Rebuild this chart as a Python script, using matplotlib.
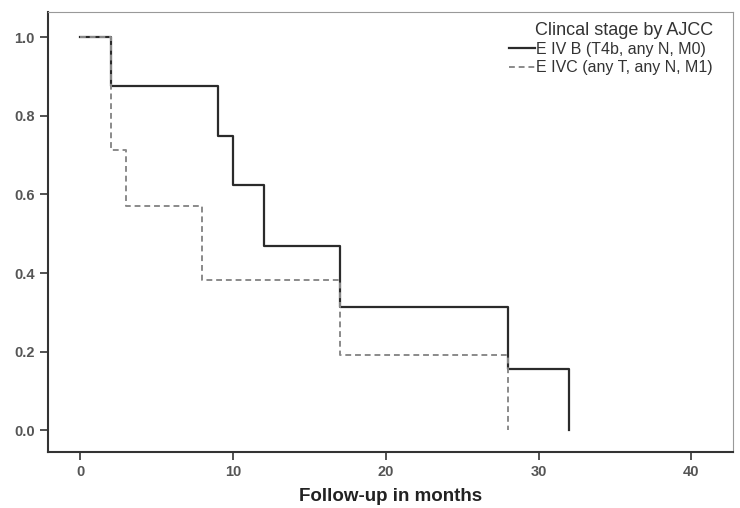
import numpy as np
import matplotlib.pyplot as plt

plt.rcParams['font.family'] = ['Liberation Sans', 'DejaVu Sans']

# Kaplan-Meier steps
ivb_time = [0, 2, 9, 10, 12, 17, 28, 32]
ivb_surv = [1.0, 0.875, 0.75, 0.625, 0.469, 0.3125, 0.156, 0.0]
ivc_time = [0, 2, 3, 8, 17, 28]
ivc_surv = [1.0, 0.714, 0.571, 0.381, 0.19, 0.0]

labels = ["E IV B (T4b, any N, M0)", "E IVC (any T, any N, M1)"]
legend_title = "Clincal stage by AJCC"

fig = plt.figure(figsize=(7.4, 5.08), dpi=100)
ax = fig.add_axes([0.065, 0.11, 0.925, 0.866])

ax.step(ivb_time, ivb_surv, where='post', color='#2b2b2b', lw=1.6,
        label=labels[0], zorder=2)
ax.step(ivc_time, ivc_surv, where='post', color='#8a8a8a', lw=1.4,
        ls=(0, (3, 2)), label=labels[1], zorder=3)

ax.set_xlim(-2.1, 42.7)
ax.set_ylim(-0.056, 1.064)
ax.set_xticks([0, 10, 20, 30, 40])
ax.set_yticks([0.0, 0.2, 0.4, 0.6, 0.8, 1.0])
ax.set_yticklabels(['0.0', '0.2', '0.4', '0.6', '0.8', '1.0'])
ax.tick_params(direction='out', length=6, width=1.3, colors='#444444',
               labelsize=10.5, labelcolor='#555555')
for lab in ax.get_xticklabels() + ax.get_yticklabels():
    lab.set_fontweight('bold')

for side in ['left', 'bottom']:
    ax.spines[side].set_linewidth(1.5)
    ax.spines[side].set_color('#333333')
for side in ['top', 'right']:
    ax.spines[side].set_linewidth(0.8)
    ax.spines[side].set_color('#999999')

ax.set_xlabel("Follow-up in months", fontsize=13.5, fontweight='bold',
              color='#222222', labelpad=6)

leg = ax.legend(title=legend_title, loc='upper right', frameon=False,
                fontsize=11.5, title_fontsize=13, handlelength=1.6,
                handletextpad=0.1, borderaxespad=0.2, labelspacing=0.2,
                bbox_to_anchor=(0.985, 1.0))
leg._legend_box.align = 'right'
for t in leg.get_texts():
    t.set_color('#333333')
leg.get_title().set_color('#333333')

fig.savefig('out.png', dpi=100)
